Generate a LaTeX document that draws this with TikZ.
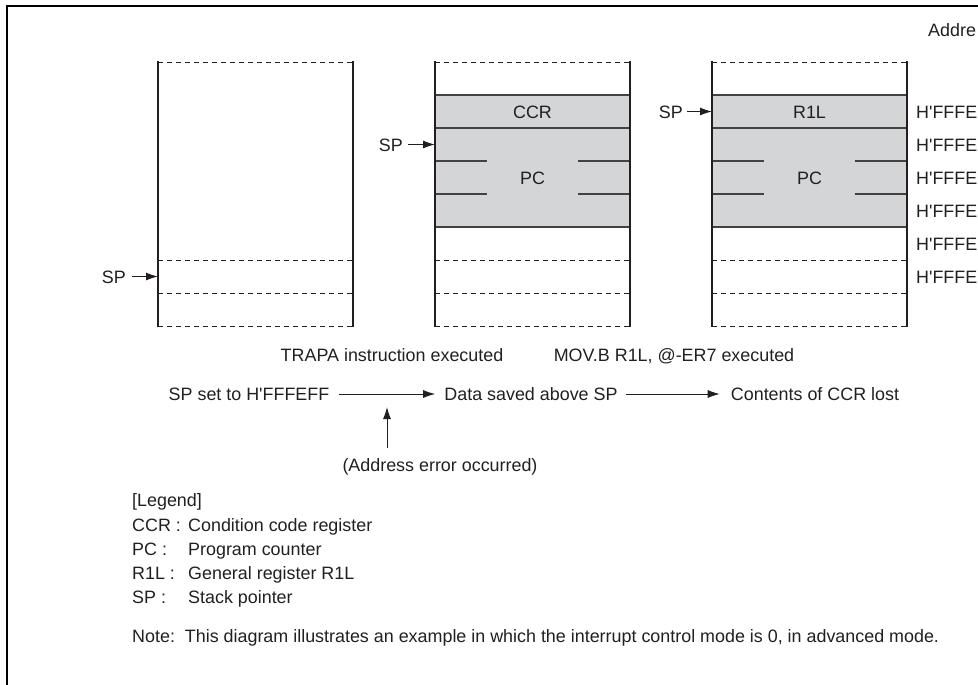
\documentclass[tikz,border=0pt]{standalone}
\usepackage{fontspec}
\setmainfont{Liberation Sans}[Ligatures=TeXOff]
\usetikzlibrary{arrows.meta}
\definecolor{cellgray}{RGB}{212,213,215}
\definecolor{ink}{RGB}{35,31,32}
\begin{document}
\begin{tikzpicture}[x=1pt,y=-1pt,
  txt/.style={font=\fontsize{17.9}{21}\selectfont, text=ink, inner sep=0pt},
  side/.style={line width=2.5pt, draw=ink},
  sepline/.style={line width=1.3pt, draw=ink!85},
  dsh/.style={line width=0.9pt, draw=ink, dash pattern=on 5pt off 4pt},
  ptr/.style={-{Latex[length=12pt,width=8pt]}, line width=1.1pt, draw=ink},
  flow/.style={-{Latex[length=12pt,width=8pt]}, line width=1pt, draw=ink}]
\useasboundingbox (0,0) rectangle (978,685);
% frame
\draw[line width=2.2pt] (7,685) -- (7,6) -- (978,6);

% column 1
\draw[dsh] (158,62) -- (353,62);
\draw[dsh] (158,260) -- (353,260);
\draw[dsh] (158,293) -- (353,293);
\draw[dsh] (158,326) -- (353,326);
\draw[side] (158,61) -- (158,327);
\draw[side] (353,61) -- (353,327);

% columns 2 and 3
\foreach \L in {435,712}{
  \fill[cellgray] (\L,95) rectangle ({\L+195},227);
  \draw[dsh] (\L,62) -- ({\L+195},62);
  \draw[sepline] (\L,95) -- ({\L+195},95);
  \draw[sepline] (\L,128) -- ({\L+195},128);
  \draw[sepline] (\L,227) -- ({\L+195},227);
  \draw[sepline] (\L,161) -- ({\L+52},161);
  \draw[sepline] ({\L+143},161) -- ({\L+195},161);
  \draw[sepline] (\L,194) -- ({\L+52},194);
  \draw[sepline] ({\L+143},194) -- ({\L+195},194);
  \draw[dsh] (\L,260) -- ({\L+195},260);
  \draw[dsh] (\L,293) -- ({\L+195},293);
  \draw[dsh] (\L,326) -- ({\L+195},326);
  \draw[side] (\L,61) -- (\L,327);
  \draw[side] ({\L+195},61) -- ({\L+195},327);
}

\node[txt, anchor=base] (ccr) at (532.5,118) {CCR};
\node[txt, anchor=base] (pcb) at (532.5,184) {PC};
\node[txt, anchor=base] (rl) at (809.5,118) {R1L};
\node[txt, anchor=base] (pcc) at (809.5,184) {PC};

% SP pointers
\node[txt, anchor=base east] (spa) at (126,283) {SP};
\coordinate (colasp) at (158,276.5);
\draw[ptr] (spa.east |- colasp) ++(6,0) -- (colasp);
\node[txt, anchor=base east] (spb) at (403,151) {SP};
\coordinate (colbsp) at (435,144.5);
\draw[ptr] (spb.east |- colbsp) ++(5,0) -- (colbsp);
\node[txt, anchor=base east] (spc) at (683,118) {SP};
\coordinate (colcsp) at (712,111.5);
\draw[ptr] (spc.east |- colcsp) ++(4,0) -- (colcsp);

% addresses
\node[txt, anchor=base west] (addr) at (928,37) {Addre};
\foreach \y/\n in {118/a,151/b,184/c,217/d,250/e,283/f}{
  \node[txt, anchor=base west] (h\n) at (916,\y) {H'FFFE};
}

% flow
\node[txt, anchor=base] (trapa) at (392,361) {TRAPA instruction executed};
\node[txt, anchor=base] (movb) at (674,361) {MOV.B R1L, @-ER7 executed};
\node[txt, anchor=base] (sa) at (249,400) {SP set to H'FFFEFF};
\node[txt, anchor=base] (sb) at (531,400) {Data saved above SP};
\node[txt, anchor=base] (sc) at (815,400) {Contents of CCR lost};
\coordinate (flowy) at (0,394);
\draw[flow] (sa.east |- flowy) ++(10,0) -- ([xshift=-9pt]sb.west |- flowy);
\draw[flow] (sb.east |- flowy) ++(8,0) -- ([xshift=-11pt]sc.west |- flowy);
\node[txt, anchor=base] (err) at (440,471) {(Address error occurred)};
\coordinate (errtop) at (387,448);
\coordinate (hit) at (387,407);
\draw[flow] (errtop) -- (hit);

% legend
\node[txt, anchor=base west] (leg) at (132,506) {[Legend]};
\node[txt, anchor=base west] (la) at (132,531) {CCR :};
\node[txt, anchor=base west] (lb) at (132,555) {PC :};
\node[txt, anchor=base west] (lc) at (132,579) {R1L :};
\node[txt, anchor=base west] (ld) at (132,603) {SP :};
\node[txt, anchor=base west] (da) at (188,531) {Condition code register};
\node[txt, anchor=base west] (db) at (188,555) {Program counter};
\node[txt, anchor=base west] (dc) at (188,579) {General register R1L};
\node[txt, anchor=base west] (dd) at (188,603) {Stack pointer};
\node[txt, anchor=base west] (note) at (132,642) {Note:\ \ This diagram illustrates an example in which the interrupt control mode is 0, in advanced mode.};
\end{tikzpicture}
\end{document}
